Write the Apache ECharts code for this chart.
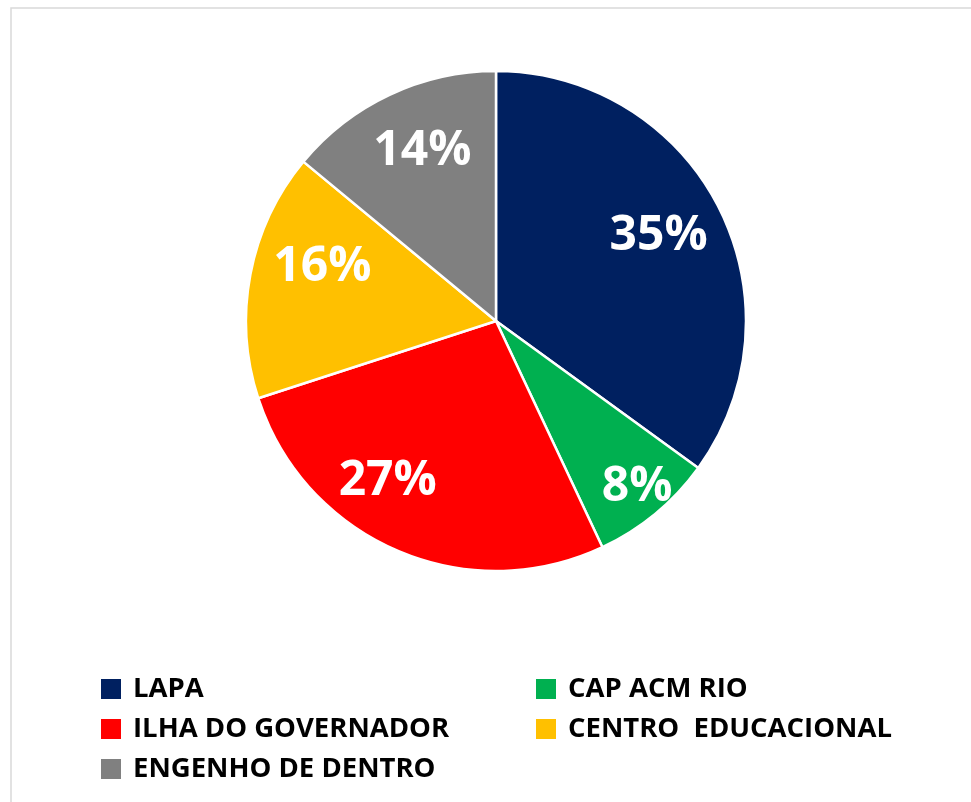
<!DOCTYPE html>
<html>
<head>
<meta charset="utf-8">
<script src="https://cdn.jsdelivr.net/npm/echarts@6/dist/echarts.min.js"></script>
<style>
  html, body { margin: 0; padding: 0; background: #fff; }
  #main { width: 971px; height: 802px; }
</style>
</head>
<body>
<div id="main"></div>
<script>
// 数据
var names = ['LAPA', 'CAP ACM RIO', 'ILHA DO GOVERNADOR', 'CENTRO  EDUCACIONAL', 'ENGENHO DE DENTRO'];
var values = [35, 8, 27, 16, 14];
var colors = ['#002060', '#00B050', '#FF0000', '#FFC000', '#808080'];

var leftLegend = [names[0], names[2], names[4]];
var rightLegend = [names[1], names[3]];

// 标签微调 (与原图对齐)
var labelNudge = [[-4, 0], [22, 22], [-34, -11], [10, -19], [6, 0]];

var pieData = [];
for (var i = 0; i < names.length; i++) {
  pieData.push({ name: names[i], value: values[i] });
}

var chart = echarts.init(document.getElementById('main'));

var legendText = {
  fontFamily: 'Open Sans',
  fontWeight: 'bold',
  fontSize: 27.5,
  color: '#000',
  lineHeight: 30,
  padding: [0, 0, 0, 6]
};

var option = {
  color: colors,
  animation: false,
  graphic: [{
    type: 'rect',
    shape: { x: 11, y: 8, width: 1000, height: 1000 },
    style: { fill: 'none', stroke: '#d9d9d9', lineWidth: 1.5 },
    silent: true
  }],
  legend: [{
    orient: 'vertical',
    left: 99,
    top: 674,
    padding: 0,
    itemWidth: 22,
    itemHeight: 22,
    itemGap: 10,
    icon: 'rect',
    textStyle: legendText,
    data: leftLegend
  }, {
    orient: 'vertical',
    left: 534,
    top: 674,
    padding: 0,
    itemWidth: 22,
    itemHeight: 22,
    itemGap: 10,
    icon: 'rect',
    textStyle: legendText,
    data: rightLegend
  }],
  series: [{
    // 饼图本体
    type: 'pie',
    center: [496, 321],
    radius: 250,
    startAngle: 90,
    clockwise: true,
    label: { show: false },
    labelLine: { show: false },
    itemStyle: { borderColor: '#fff', borderWidth: 2.5 },
    emphasis: { disabled: true },
    data: pieData
  }, {
    // 透明层, 只放标签
    type: 'pie',
    center: [496, 321],
    radius: [118, 250],
    startAngle: 90,
    clockwise: true,
    silent: true,
    itemStyle: { color: 'rgba(0,0,0,0)', borderWidth: 0 },
    label: {
      show: true,
      position: 'inside',
      formatter: '{c}%',
      color: '#fff',
      fontFamily: 'Open Sans',
      fontWeight: 'bold',
      fontSize: 48
    },
    labelLayout: function (params) {
      var n = labelNudge[params.dataIndex];
      return { dx: n[0], dy: n[1] };
    },
    labelLine: { show: false },
    emphasis: { disabled: true },
    data: pieData
  }]
};

chart.setOption(option);
</script>
</body>
</html>
